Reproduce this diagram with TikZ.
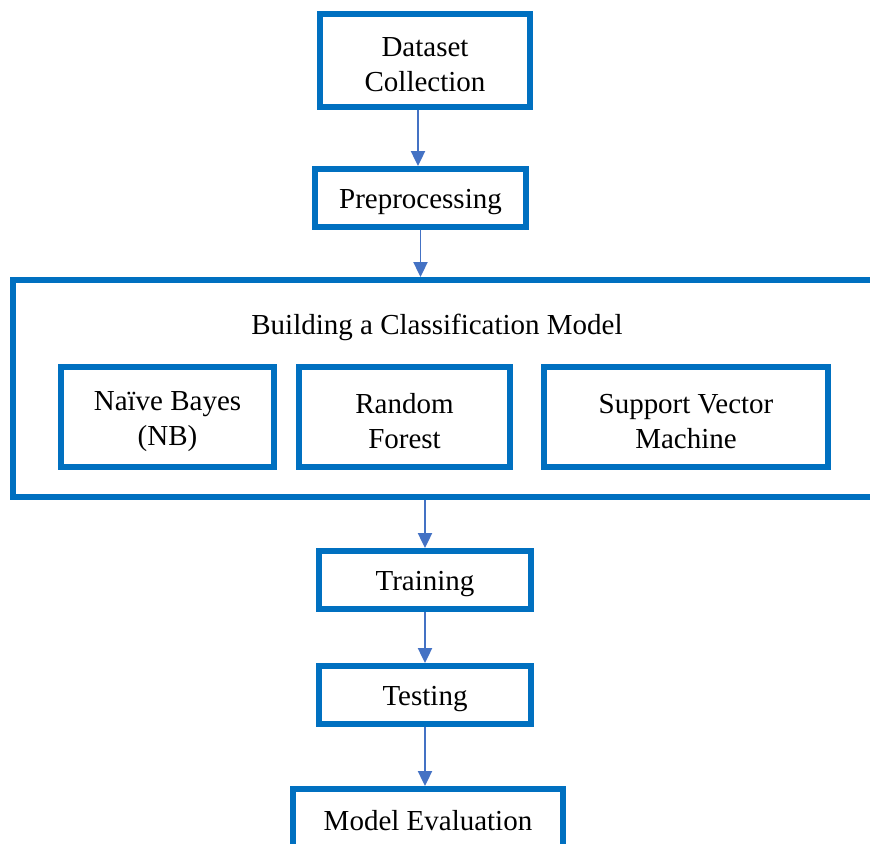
\documentclass[tikz,border=0pt]{standalone}
\usepackage{fontspec}
\setmainfont{Liberation Serif}
\usetikzlibrary{arrows.meta, positioning}
\usepackage{xcolor}
\definecolor{boxblue}{HTML}{0070C0}
\definecolor{arrowblue}{HTML}{4472C4}

\begin{document}
\begin{tikzpicture}[x=0.02cm, y=-0.02cm, font=\fontsize{16.5}{20}\selectfont]
    \tikzstyle{stepbox}=[draw=boxblue, line width=3.4pt, rectangle, inner sep=0pt]
    \tikzstyle{steptext}=[align=center, inner sep=0pt, yshift=-0.09cm]
    \tikzstyle{flow}=[draw=arrowblue, line width=1.1pt, -{Triangle[length=8.5pt, width=8pt]}]

    \useasboundingbox (0,0) rectangle (870,844);
    \clip (0,0) rectangle (870,844);

    \node[stepbox, minimum width=4.2cm, minimum height=1.86cm] (data) at (425,60.5) {};
    \node[steptext] (data-t) at (data) {Dataset\\Collection};
    \node[stepbox, minimum width=4.22cm, minimum height=1.16cm] (pre) at (420.5,198) {};
    \node[steptext] (pre-t) at (pre) {Preprocessing};

%   outer box, right side runs off the page
    \node[stepbox, anchor=north west, minimum width=19cm, minimum height=4.34cm] (build) at (10,277) {};
    \node[steptext] (build-t) at (437,323) {Building a Classification Model};

    \node[stepbox, minimum width=4.26cm, minimum height=2cm] (nb) at (167.5,417) {};
    \node[steptext] (nb-t) at (nb) {Naïve Bayes\\(NB)};
    \node[stepbox, minimum width=4.24cm, minimum height=2cm] (rf) at (404.5,417) {};
    \node[steptext] (rf-t) at (rf) {Random\\Forest};
    \node[stepbox, minimum width=5.7cm, minimum height=2cm] (svm) at (686,417) {};
    \node[steptext] (svm-t) at (svm) {Support Vector\\Machine};

    \node[stepbox, minimum width=4.26cm, minimum height=1.16cm] (train) at (425,580) {};
    \node[steptext] (train-t) at (train) {Training};
    \node[stepbox, minimum width=4.26cm, minimum height=1.16cm] (test) at (425,695) {};
    \node[steptext] (test-t) at (test) {Testing};
    \node[stepbox, anchor=north, minimum width=5.4cm, minimum height=1.6cm] (eval) at (428,786) {};
    \node[steptext] (eval-t) at (428,816) {Model Evaluation};

    \draw[flow] ([xshift=-0.14cm]data.south) -- ([xshift=-0.14cm]data.south |- pre.north);
    \draw[flow] (pre.south) -- (pre.south |- build.north);
    \draw[flow] (train.north |- build.south) -- (train.north);
    \draw[flow] (train.south) -- (test.north);
    \draw[flow] (test.south) -- (test.south |- eval.north);
\end{tikzpicture}
\end{document}
